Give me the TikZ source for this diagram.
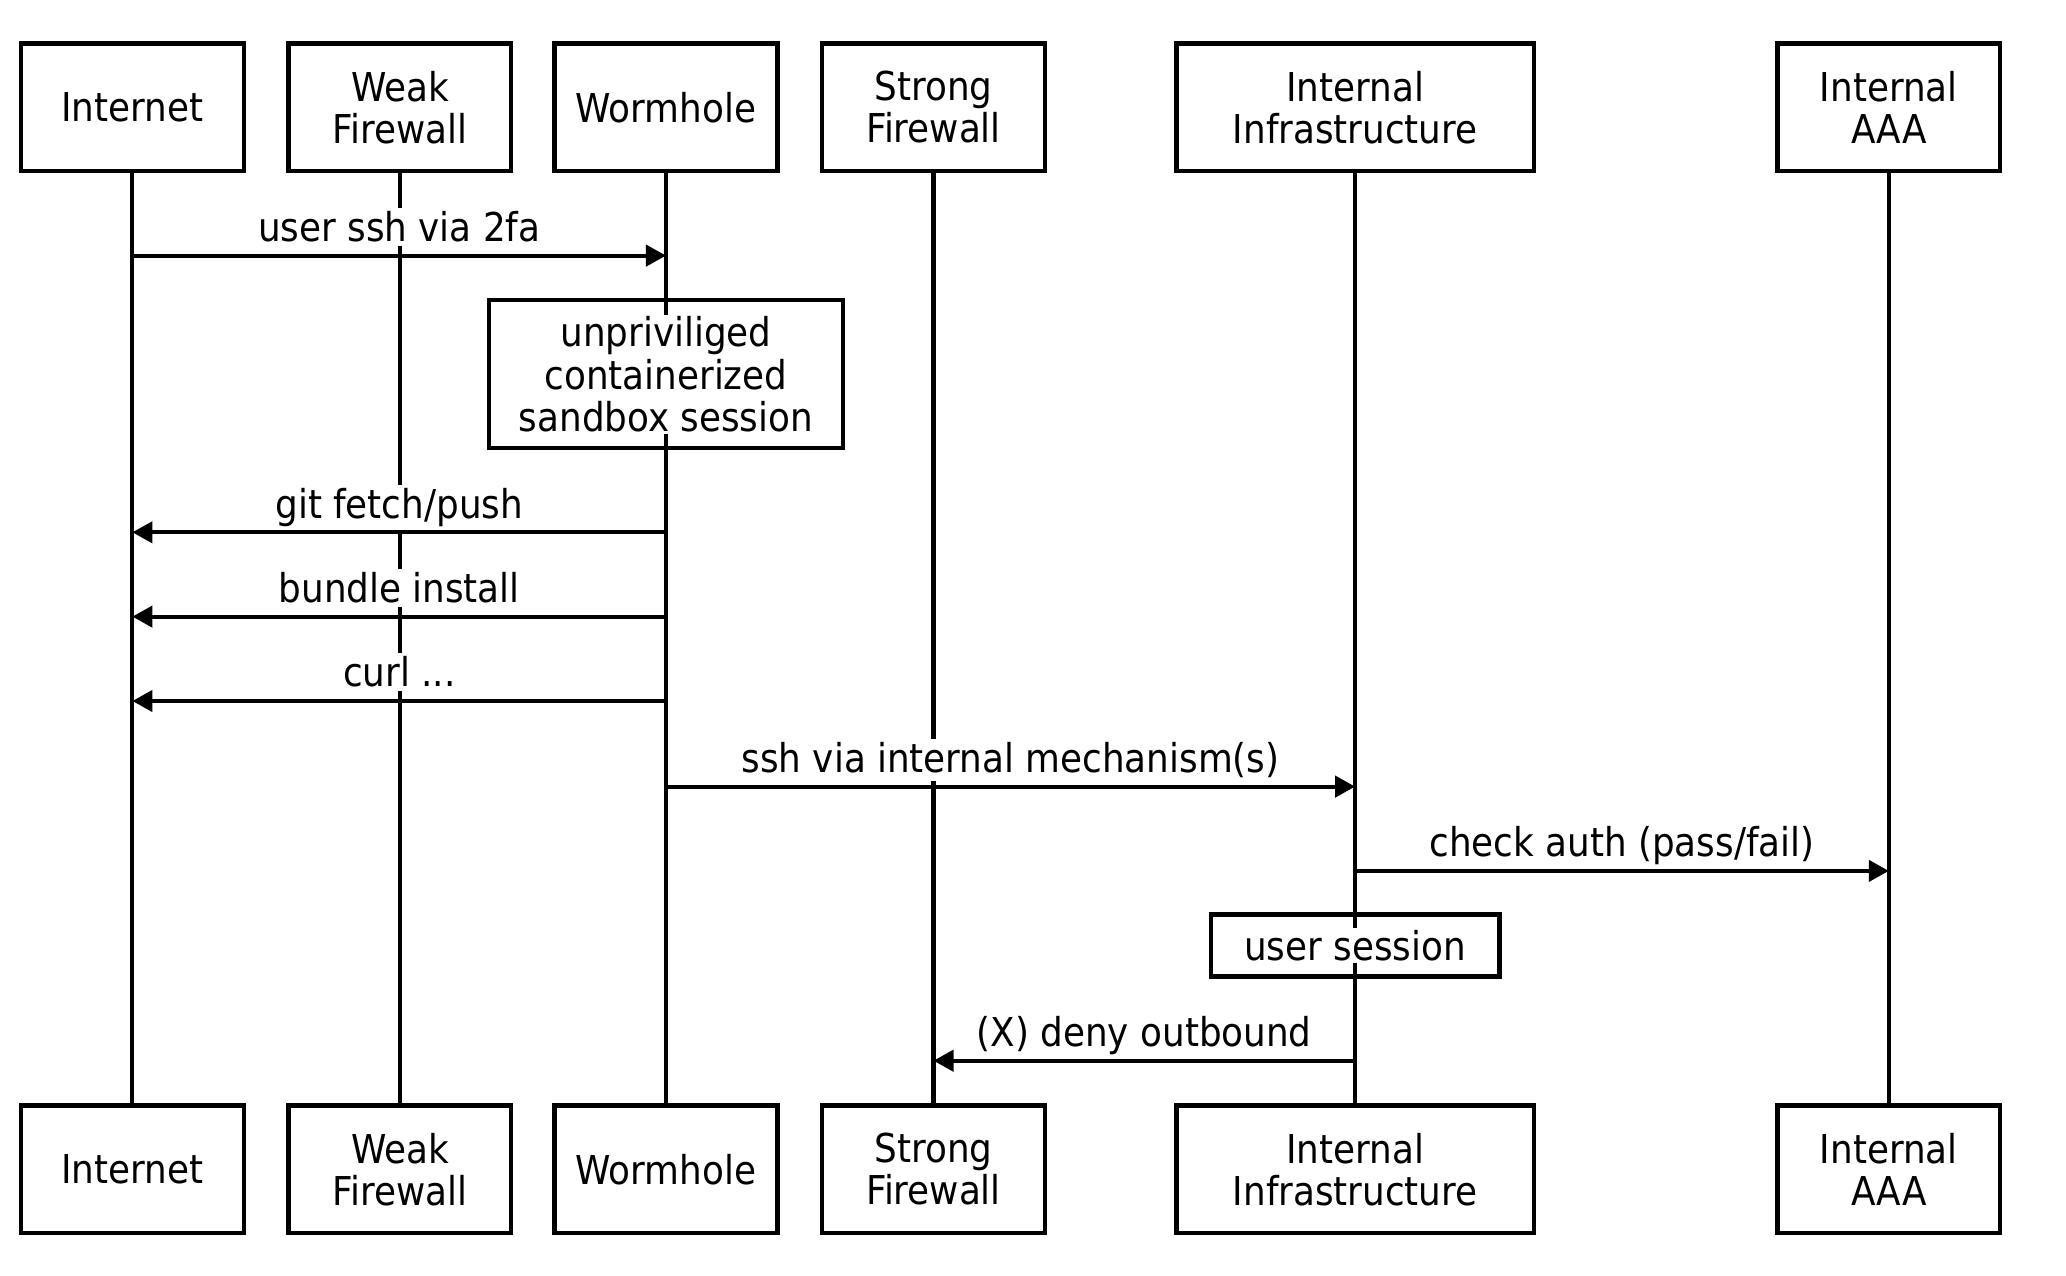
\documentclass[tikz,border=0pt]{standalone}
\usepackage{fontspec}
\setmainfont{DejaVu Sans Condensed}
\usepackage{tikz}
\usetikzlibrary{arrows.meta,positioning,fit,backgrounds}
\tikzset{
    actor/.style={
        rectangle,
        draw,
        line width=1.2pt,
        minimum width=2.227cm,
        minimum height=1.278cm,
        align=center,
        inner sep=2pt
    },
    wideActor/.style={actor, minimum width=3.571cm},
    % lifelines and messages
    lifeline/.style={line width=1.15pt},
    msg/.style={-{Triangle[length=5.7pt,width=6pt]}, line width=1.15pt},
    msgLabel/.style={midway, anchor=base, yshift=4pt, fill=white, inner sep=1pt},
    % notes on a lifeline
    noteText/.style={fill=white, inner sep=0.5pt, align=center},
    noteBox/.style={draw, line width=1.2pt, inner sep=0pt}
}

\begin{document}
\begin{tikzpicture}[x=0.01cm, y=-0.01cm, font=\fontsize{11.3}{12}\selectfont]
\useasboundingbox (0,0) rectangle (2066,1275);

% participants, top row
\node[actor] (inet) at (132.4,107.4) {Internet};
\node[actor] (weakfw) at (399.9,107.4) {Weak\\Firewall};
\node[actor] (wormhole) at (666.0,107.4) {Wormhole};
\node[actor] (strongfw) at (933.5,107.4) {Strong\\Firewall};
\node[wideActor] (infra) at (1355.1,107.4) {Internal\\Infrastructure};
\node[actor] (aaa) at (1888.8,107.4) {Internal\\AAA};

% participants, bottom row
\node[actor] (inetB) at (132.4,1169.4) {Internet};
\node[actor] (weakfwB) at (399.9,1169.4) {Weak\\Firewall};
\node[actor] (wormholeB) at (666.0,1169.4) {Wormhole};
\node[actor] (strongfwB) at (933.5,1169.4) {Strong\\Firewall};
\node[wideActor] (infraB) at (1355.1,1169.4) {Internal\\Infrastructure};
\node[actor] (aaaB) at (1888.8,1169.4) {Internal\\AAA};

% message rows
\coordinate (m1) at (0,255.6);
\coordinate (m2) at (0,532.3);
\coordinate (m3) at (0,616.6);
\coordinate (m4) at (0,701.0);
\coordinate (m5) at (0,786.6);
\coordinate (m6) at (0,870.9);
\coordinate (m7) at (0,1060.7);

% notes
\node[noteText] (sandboxTxt) at (666.0,374.2) {unpriviliged\\containerized\\sandbox session};
\node[noteBox, fit=(sandboxTxt), minimum width=3.545cm, minimum height=1.476cm] (sandbox) {};
\node[noteText] (sessionTxt) at (1355.1,945.4) {user session};
\node[noteBox, fit=(sessionTxt), minimum width=2.885cm, minimum height=0.62cm] (session) {};

\draw[msg] (inet |- m1) -- (wormhole |- m1) node[msgLabel] {user ssh via 2fa};
\draw[msg] (wormhole |- m2) -- (inet |- m2) node[msgLabel] {git fetch/push};
\draw[msg] (wormhole |- m3) -- (inet |- m3) node[msgLabel] {bundle install};
\draw[msg] (wormhole |- m4) -- (inet |- m4) node[msgLabel] {curl ...};
\draw[msg] (wormhole |- m5) -- (infra |- m5) node[msgLabel] {ssh via internal mechanism(s)};
\draw[msg] (infra |- m6) -- (aaa |- m6) node[msgLabel] {check auth (pass/fail)};
\draw[msg] (infra |- m7) -- (strongfw |- m7) node[msgLabel] {(X) deny outbound};

\begin{scope}[on background layer]
\draw[lifeline] (inet) -- (inetB);
\draw[lifeline] (weakfw) -- (weakfwB);
\draw[lifeline] (wormhole) -- (wormholeB);
\draw[lifeline] (strongfw) -- (strongfwB);
\draw[lifeline] (infra) -- (infraB);
\draw[lifeline] (aaa) -- (aaaB);
\end{scope}
\end{tikzpicture}
\end{document}
